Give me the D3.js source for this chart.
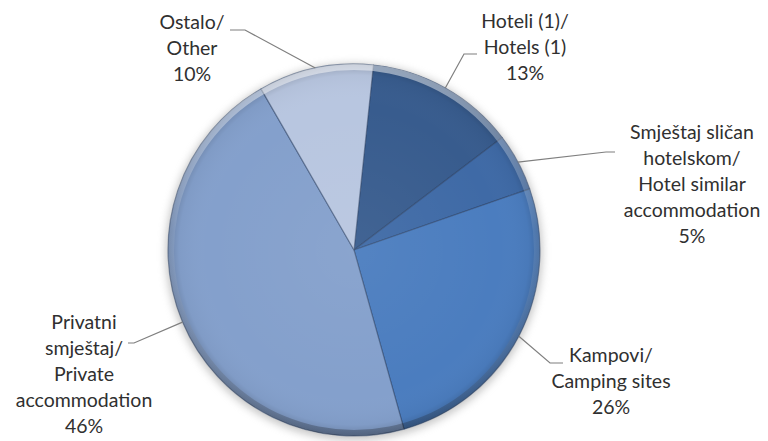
<!DOCTYPE html>
<html>
<head>
<meta charset="utf-8">
<script src="https://cdn.jsdelivr.net/npm/d3@7"></script>
<style>
  body { margin: 0; background: #fff; }
  text { font-family: Lato, "Noto Sans", sans-serif; font-size: 19.5px; fill: #303030; }
</style>
</head>
<body>
<svg id="chart"></svg>
<script>
// data
var categories = [
  ["Hoteli (1)/", "Hotels (1)"],
  ["Smještaj sličan", "hotelskom/", "Hotel similar", "accommodation"],
  ["Kampovi/", "Camping sites"],
  ["Privatni", "smještaj/", "Private", "accommodation"],
  ["Ostalo/", "Other"]
];
var shares = [13, 5, 26, 46, 10];
var sliceColors = ["#385c8e", "#3f6aa6", "#4b7dbf", "#84a0cc", "#b8c6e0"];

var width = 768, height = 441,
  cx = 354, cy = 250, radius = 186,
  lineH = 26,
  startAngle = 6 * Math.PI / 180;

// where each label block sits and where its leader bends
var labelLayout = [
  { x: 525, y: 28,  elbow: [464, 54],  end: [477, 54] },
  { x: 692, y: 139, elbow: [606, 152], end: [615, 152] },
  { x: 611, y: 362, elbow: [550, 363], end: [563, 363] },
  { x: 84,  y: 329, elbow: [134, 343], end: [128, 343] },
  { x: 192, y: 29,  elbow: [245, 30],  end: [230, 30] }
];

var svg = d3.select("#chart").attr("width", width).attr("height", height);
var defs = svg.append("defs");

defs.append("filter").attr("id", "soft")
  .attr("x", "-20%").attr("y", "-20%").attr("width", "140%").attr("height", "140%")
  .append("feGaussianBlur").attr("stdDeviation", 4);

// gradients live in the pie group's coordinates (origin = pie centre)
var shade = defs.append("radialGradient").attr("id", "shade")
  .attr("gradientUnits", "userSpaceOnUse")
  .attr("cx", 0).attr("cy", 0).attr("r", radius);
shade.append("stop").attr("offset", "0%").attr("stop-color", "#fff").attr("stop-opacity", 0.05);
shade.append("stop").attr("offset", "78%").attr("stop-color", "#fff").attr("stop-opacity", 0);
shade.append("stop").attr("offset", "94%").attr("stop-color", "#000").attr("stop-opacity", 0.03);
shade.append("stop").attr("offset", "100%").attr("stop-color", "#000").attr("stop-opacity", 0.18);

var rim = defs.append("linearGradient").attr("id", "rim")
  .attr("x1", 0).attr("y1", 0).attr("x2", 0).attr("y2", 1);
rim.append("stop").attr("offset", "0%").attr("stop-color", "#fff").attr("stop-opacity", 0.5);
rim.append("stop").attr("offset", "45%").attr("stop-color", "#fff").attr("stop-opacity", 0.08);
rim.append("stop").attr("offset", "100%").attr("stop-color", "#000").attr("stop-opacity", 0.25);

var color = d3.scaleOrdinal().domain(d3.range(shares.length)).range(sliceColors);

var pie = d3.pie().sort(null).value(function(d) { return d; })
  .startAngle(startAngle).endAngle(startAngle + 2 * Math.PI);
var arcs = pie(shares);

var arc = d3.arc().innerRadius(0).outerRadius(radius);
var edge = d3.arc().innerRadius(radius).outerRadius(radius);

var g = svg.append("g").attr("transform", "translate(" + cx + "," + cy + ")");

// outer shadow
g.append("circle").attr("r", radius + 2).attr("cy", 2)
  .attr("fill", "#8a8a8a").attr("opacity", 0.5).attr("filter", "url(#soft)");

g.selectAll("path.slice")
  .data(arcs)
  .enter().append("path")
  .attr("class", "slice")
  .attr("d", arc)
  .attr("fill", function(d, i) { return color(i); })
  .attr("stroke", "#2b4266")
  .attr("stroke-opacity", 0.5)
  .attr("stroke-width", 1.2)
  .attr("stroke-linejoin", "round");

g.append("circle").attr("r", radius).attr("fill", "url(#shade)");

g.append("path")
  .attr("d", d3.arc().innerRadius(radius - 6).outerRadius(radius)({ startAngle: 0, endAngle: 2 * Math.PI }))
  .attr("fill", "url(#rim)");

// leader lines
svg.selectAll("polyline.leader")
  .data(arcs)
  .enter().append("polyline")
  .attr("class", "leader")
  .attr("fill", "none")
  .attr("stroke", "#7f7f7f")
  .attr("stroke-width", 1.2)
  .attr("points", function(d, i) {
    var p = edge.centroid(d), L = labelLayout[i];
    return [[cx + p[0], cy + p[1]], L.elbow, L.end].map(function(q) { return q.join(","); }).join(" ");
  });

// labels
var labels = svg.selectAll("text.label")
  .data(arcs)
  .enter().append("text")
  .attr("class", "label")
  .attr("text-anchor", "middle");

labels.each(function(d, i) {
  var L = labelLayout[i];
  var lines = categories[i].concat([d3.format(".0f")(d.value) + "%"]);
  d3.select(this).selectAll("tspan")
    .data(lines)
    .enter().append("tspan")
    .attr("x", L.x)
    .attr("y", function(t, j) { return L.y + j * lineH; })
    .text(function(t) { return t; });
});
</script>
</body>
</html>
